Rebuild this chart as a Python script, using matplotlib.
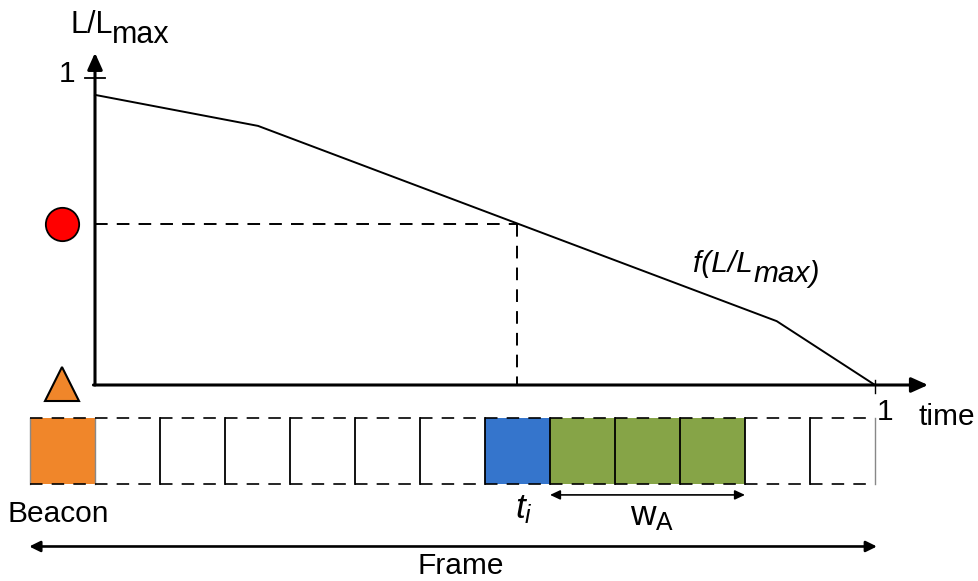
import numpy as np
import matplotlib.pyplot as plt

plt.rcParams['font.family'] = ['Liberation Sans', 'DejaVu Sans']
plt.rcParams['mathtext.fontset'] = 'custom'
plt.rcParams['mathtext.rm'] = 'Liberation Sans'
plt.rcParams['mathtext.it'] = 'Liberation Sans:italic'

# Level curve f(L/Lmax) over normalised time
curve_t = [0.0, 0.209, 0.874, 1.0]
curve_L = [0.945, 0.844, 0.208, 0.0]

# Frame slots: beacon, then 12 slots over time 0..1
slot_kind = ['beacon'] + ['empty'] * 6 + ['tx'] + ['ack'] * 3 + ['empty'] * 2
slot_colors = {'beacon': '#F0862A', 'empty': 'none', 'tx': '#3575CC', 'ack': '#86A447'}
n_slots = 12
w = 1.0 / n_slots
tx_slot = slot_kind.index('tx')
t_i = (tx_slot - 1 + 0.5) * w
L_i = np.interp(t_i, curve_t, curve_L)
ack_start = tx_slot * w
ack_end = (tx_slot + slot_kind.count('ack')) * w

row_top, row_bot = -0.108, -0.322

fig = plt.figure(figsize=(9.79, 5.81), dpi=100)
ax = fig.add_axes([0, 0, 1, 1])
ax.set_xlim(-95 / 780, 884 / 780)
ax.set_ylim(-196 / 307, 385 / 307)
ax.axis('off')

fs = 21.5
dash = (0, (6.5, 4.7))
dlw = 1.4

# axes with arrows
ax.annotate('', xy=(0, 1.082), xytext=(0, 0),
            arrowprops=dict(arrowstyle='-|>,head_length=1.0,head_width=0.45',
                            lw=2.2, color='k', shrinkA=0, shrinkB=0))
ax.annotate('', xy=(1.068, 0), xytext=(-0.002, 0),
            arrowprops=dict(arrowstyle='-|>,head_length=1.0,head_width=0.45',
                            lw=2.2, color='k', shrinkA=0, shrinkB=0))
ax.plot([-0.0128, 0.0128], [1, 1], color='k', lw=1.3)
ax.plot([1, 1], [0.016, -0.026], color='k', lw=1.0)

# curve
ax.plot(curve_t, curve_L, color='k', lw=1.4)

# dashed guides
ax.plot([0, t_i], [L_i, L_i], color='k', lw=dlw, ls=dash)
ax.plot([t_i, t_i], [L_i, 0], color='k', lw=dlw, ls=dash)

# markers
ax.plot([-0.0423], [L_i], marker='o', ms=24, mfc='#FF0000', mec='k', mew=1.3)
ax.plot([-0.0423], [0.003], marker='^', ms=25, mfc='#F0862A', mec='k', mew=1.5)

# slots
for k, kind in enumerate(slot_kind):
    left = (k - 1) * w
    if kind != 'empty':
        ax.bar(left, row_top - row_bot, width=w, bottom=row_bot, align='edge',
               color=slot_colors[kind], lw=0)
for k in range(1, n_slots):
    ax.plot([k * w, k * w], [row_top, row_bot], color='k', lw=1.3)
for x in [-w, 0, 1]:
    ax.plot([x, x], [row_top, row_bot], color='#888888', lw=1.0)
ax.plot([-w, 1], [row_top, row_top], color='k', lw=1.2, ls=(0, (7.5, 5.5)))
ax.plot([-w, 1], [row_bot, row_bot], color='k', lw=1.2, ls=(0, (7.5, 5.5)))

# frame and ack-window arrows
ax.annotate('', xy=(1.0025, -0.526), xytext=(-w - 0.001, -0.526),
            arrowprops=dict(arrowstyle='<|-|>,head_length=0.65,head_width=0.32',
                            lw=1.9, color='k', shrinkA=0, shrinkB=0))
ax.annotate('', xy=(ack_end, -0.358), xytext=(ack_start, -0.358),
            arrowprops=dict(arrowstyle='<|-|>,head_length=0.6,head_width=0.28',
                            lw=1.2, color='k', shrinkA=0, shrinkB=0))

# text
ax.text(-0.032, 1.1466, 'L/L', fontsize=22, ha='left', va='baseline')
ax.text(0.0218, 1.114, 'max', fontsize=22, ha='left', va='baseline')
ax.text(-0.0256, 1.013, '1', fontsize=fs, ha='right', va='center')
ax.text(1.0128, -0.114, '1', fontsize=fs, ha='center', va='baseline')
ax.text(1.056, -0.130, 'time', fontsize=fs, ha='left', va='baseline')
ax.text(0.767, 0.368, 'f(L/L', fontsize=fs, ha='left', va='baseline', style='italic')
ax.text(0.8436, 0.3355, 'max)', fontsize=fs, ha='left', va='baseline', style='italic')
ax.text(-0.0474, -0.446, 'Beacon', fontsize=fs, ha='center', va='baseline')
ax.text(0.55, -0.433, r'$t_{i}$', fontsize=fs + 4, ha='center', va='baseline')
ax.text(0.714, -0.456, r'$\mathrm{w}_{\mathrm{A}}$', fontsize=fs + 4, ha='center', va='baseline')
ax.text(0.469, -0.616, 'Frame', fontsize=fs, ha='center', va='baseline')

fig.savefig('out.png', dpi=100)
